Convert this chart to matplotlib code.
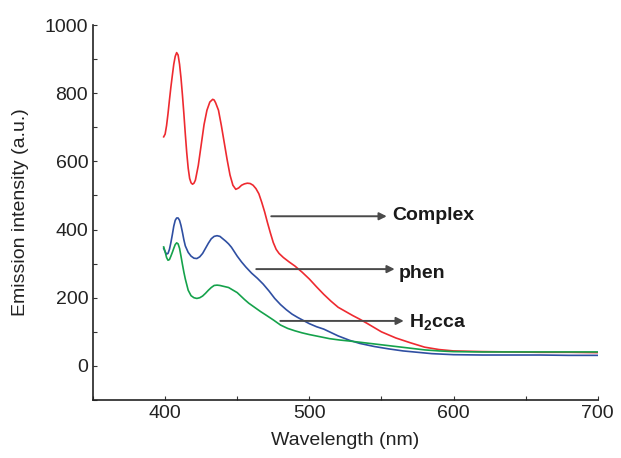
import matplotlib
matplotlib.use('Agg')
import matplotlib.pyplot as plt # type: ignore
from matplotlib.ticker import MultipleLocator # type: ignore

plt.rcParams['font.family'] = ['Liberation Sans', 'DejaVu Sans']
plt.rcParams['mathtext.fontset'] = 'custom'
plt.rcParams['mathtext.rm'] = 'Liberation Sans'
plt.rcParams['mathtext.bf'] = 'Liberation Sans:bold'

# --- DATA ---
complex_wl = [399, 400, 401, 402, 403, 404, 405, 406, 407, 408, 409, 410, 411, 412, 413,
              414, 415, 416, 417, 418, 419, 420, 421, 423, 425, 427, 429, 431, 433, 434,
              435, 437, 439, 441, 443, 445, 447, 449, 451, 453, 455, 457, 459, 461, 463,
              465, 467, 469, 471, 473, 475, 477, 479, 482, 486, 490, 495, 500, 505, 510,
              515, 520, 525, 530, 535, 540, 550, 560, 570, 580, 590, 600, 620, 640, 660,
              680, 700]
complex_int = [672, 680, 705, 740, 780, 818, 852, 885, 908, 919, 912, 885, 845, 795, 740,
               680, 625, 580, 550, 537, 533, 536, 545, 588, 648, 708, 750, 774, 782, 780,
               772, 750, 705, 655, 605, 560, 530, 518, 522, 530, 534, 536, 535, 530, 520,
               505, 480, 452, 420, 390, 362, 342, 330, 318, 305, 293, 275, 255, 232, 210,
               190, 172, 160, 148, 137, 125, 100, 82, 68, 55, 48, 44, 42, 41, 40,
               40, 39]

phen_wl = [399, 400, 401, 402, 403, 404, 405, 406, 407, 408, 409, 410, 411, 412, 413,
           414, 416, 418, 420, 422, 424, 426, 428, 430, 432, 434, 436, 438, 440, 442,
           444, 446, 448, 450, 453, 456, 460, 464, 468, 472, 476, 480, 484, 488, 492,
           496, 500, 505, 510, 515, 520, 528, 535, 545, 555, 565, 575, 585, 600, 620,
           640, 660, 680, 700]
phen_int = [345, 335, 328, 330, 342, 362, 385, 410, 427, 434, 434, 427, 412, 392, 370,
            352, 333, 322, 316, 315, 320, 330, 345, 360, 373, 380, 382, 380, 373, 366,
            358, 348, 335, 322, 305, 290, 272, 257, 240, 220, 198, 180, 165, 152, 142,
            133, 124, 115, 108, 98, 88, 75, 66, 57, 50, 44, 40, 36, 33, 32,
            32, 32, 31, 31]

h2cca_wl = [399, 400, 401, 402, 403, 404, 405, 406, 407, 408, 409, 410, 411, 412, 413,
            414, 416, 418, 420, 422, 424, 426, 428, 430, 432, 434, 436, 438, 440, 442,
            444, 446, 448, 450, 452, 455, 458, 462, 466, 470, 475, 480, 485, 490, 495,
            500, 507, 514, 521, 528, 540, 550, 560, 570, 580, 590, 600, 620, 640, 660,
            680, 700]
h2cca_int = [349, 335, 318, 310, 312, 322, 333, 345, 356, 361, 358, 345, 322, 298, 275,
             255, 222, 206, 200, 198, 200, 205, 213, 222, 230, 236, 237, 236, 234, 232,
             230, 225, 220, 215, 207, 195, 184, 172, 160, 149, 135, 120, 110, 103, 97,
             92, 86, 80, 76, 73, 67, 62, 57, 52, 47, 44, 42, 41, 41, 41,
             41, 41]

# label text, arrow start (x, y), arrow tip x, text position
labels = ['Complex', 'phen', r'H$_\mathbf{2}$cca']
arrow_start = [(473.6, 439), (463.2, 284), (479.9, 132)]
arrow_tip_x = [553.7, 559.2, 565.5]
label_pos = [(557.8, 441), (562.2, 272), (569.2, 126)]


def draw_spectra():
    fig = plt.figure(figsize=(6.21, 4.58), dpi=100)
    ax = fig.add_axes([0.1498, 0.1266, 0.8127, 0.8188])

    ax.plot(complex_wl, complex_int, color='#ee2a30', lw=1.2)
    ax.plot(phen_wl, phen_int, color='#2f4fa2', lw=1.2)
    ax.plot(h2cca_wl, h2cca_int, color='#15a24b', lw=1.2)

    # arrows + labels
    for lab, (x0, y0), x1, (tx, ty) in zip(labels, arrow_start, arrow_tip_x, label_pos):
        ax.annotate('', xy=(x1, y0), xytext=(x0, y0),
                    arrowprops=dict(arrowstyle='-|>', color='#4a4a4a', lw=1.4,
                                    mutation_scale=11, shrinkA=0, shrinkB=0))
        ax.text(tx, ty, lab, fontsize=14, fontweight='bold', va='center', ha='left',
                color='#1a1a1a')

    ax.set_xlim(350, 700)
    ax.set_ylim(-100, 1000)
    ax.xaxis.set_major_locator(MultipleLocator(100))
    ax.xaxis.set_minor_locator(MultipleLocator(50))
    ax.yaxis.set_major_locator(MultipleLocator(200))
    ax.yaxis.set_minor_locator(MultipleLocator(100))
    ax.set_xticks([400, 500, 600, 700])
    ax.tick_params(which='both', direction='in', length=3, width=0.8,
                   labelsize=14, color='#333333', labelcolor='#222222')

    ax.spines['top'].set_visible(False)
    ax.spines['right'].set_visible(False)
    ax.spines['left'].set_color('#222222')
    ax.spines['bottom'].set_color('#222222')
    ax.spines['left'].set_linewidth(1.2)
    ax.spines['bottom'].set_linewidth(1.2)

    ax.set_xlabel('Wavelength (nm)', fontsize=14, color='#222222', labelpad=7)
    ax.set_ylabel('Emission intensity (a.u.)', fontsize=14, color='#222222', labelpad=11)

    fig.savefig('out.png', dpi=100)


if __name__ == "__main__":
    draw_spectra()
